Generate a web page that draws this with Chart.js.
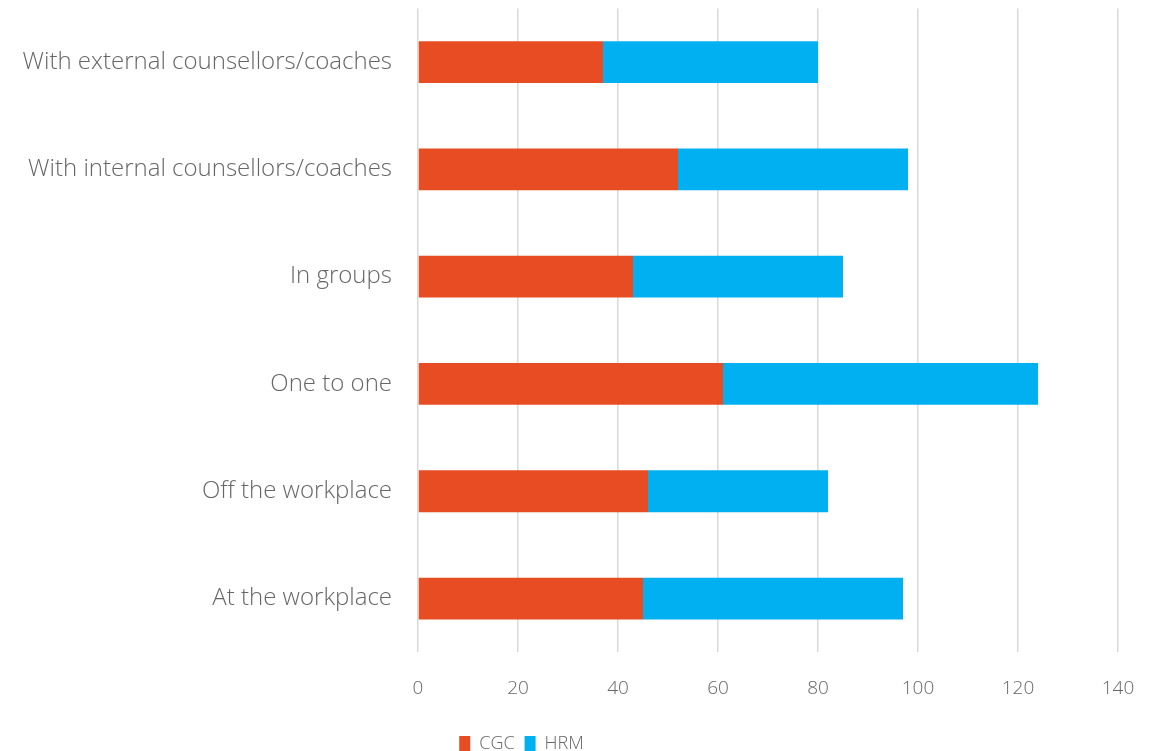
<!DOCTYPE html>
<html>
<head>
<meta charset="utf-8">
<script src="https://cdn.jsdelivr.net/npm/chart.js@4"></script>
<style>
html,body{margin:0;padding:0;background:#fff;overflow:hidden;}
#wrap{position:relative;width:1166px;height:763px;}
</style>
</head>
<body>
<div id="wrap"><canvas id="c"></canvas></div>
<script>
const categories = ["With external counsellors/coaches","With internal counsellors/coaches","In groups","One to one","Off the workplace","At the workplace"];
const cgcValues = [37, 52, 43, 61, 46, 45];
const hrmValues = [43, 46, 42, 63, 36, 52];
const xTicks = [0, 20, 40, 60, 80, 100, 120, 140];

const FONT = "'Open Sans', 'DejaVu Sans', sans-serif";
const TEXT = "#666666";

// Shift the centred legend to sit where the original places it.
const legendShift = {
  id: 'legendShift',
  afterLayout(chart) {
    const lg = chart.legend;
    if (lg) { lg.left = 0; lg.right = 1043; }
  }
};

new Chart(document.getElementById('c'), {
  type: 'bar',
  data: {
    labels: categories,
    datasets: [
      { label: 'CGC', data: cgcValues, backgroundColor: '#E84C22', borderWidth: 0 },
      { label: 'HRM', data: hrmValues, backgroundColor: '#00B0F0', borderWidth: 0 }
    ]
  },
  plugins: [legendShift],
  options: {
    indexAxis: 'y',
    responsive: true,
    maintainAspectRatio: false,
    animation: false,
    layout: { padding: { left: 0, right: 48, top: 0, bottom: 0 } },
    datasets: { bar: { barPercentage: 0.39, categoryPercentage: 1.0 } },
    plugins: {
      legend: {
        display: true,
        position: 'bottom',
        labels: {
          font: { family: FONT, size: 18, weight: 300 },
          color: TEXT,
          boxWidth: 11,
          boxHeight: 16,
          padding: 10
        }
      },
      tooltip: { enabled: false }
    },
    scales: {
      x: {
        stacked: true,
        min: 0,
        max: 140,
        afterBuildTicks: (s) => { s.ticks = xTicks.map(v => ({ value: v })); },
        ticks: {
          font: { family: FONT, size: 19, weight: 300 },
          color: TEXT,
          padding: 25
        },
        grid: { color: '#D9D9D9', lineWidth: 1.5, drawTicks: false },
        border: { display: false }
      },
      y: {
        stacked: true,
        afterFit: (s) => { s.width = 418; },
        ticks: {
          font: { family: FONT, size: 24, weight: 300, lineHeight: 0.7 },
          color: TEXT,
          padding: 0
        },
        grid: { display: false, drawTicks: true, tickLength: 26 },
        border: { display: false }
      }
    }
  }
});
</script>
</body>
</html>
